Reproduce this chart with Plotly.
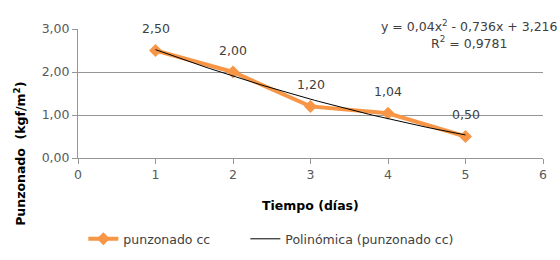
import numpy as np
import plotly.graph_objects as go

dias = [1, 2, 3, 4, 5]
punzonado = [2.50, 2.00, 1.20, 1.04, 0.50]
etiquetas = ["2,50", "2,00", "1,20", "1,04", "0,50"]
ecuacion = "y = 0,04x<sup>2</sup> - 0,736x + 3,216<br>R<sup>2</sup> = 0,9781"

coef = np.polyfit(dias, punzonado, 2)
xt = np.linspace(min(dias), max(dias), 81)
yt = np.polyval(coef, xt)

FONT = "'DejaVu Sans', sans-serif"
ORANGE = "#F79646"
FS = 12.5

L, R, T, B = 78, 17, 28.5, 102.3
W, H = 560, 260
pw, ph = W - L - R, H - T - B

def px(x):
    return (x - L) / pw

def py(y):
    return (H - B - y) / ph

fig = go.Figure()
fig.add_trace(go.Scatter(
    x=dias, y=punzonado, mode="lines+markers", name="punzonado cc",
    line=dict(color=ORANGE, width=4),
    marker=dict(symbol="diamond", size=10, color=ORANGE),
    legend="legend",
))
fig.add_trace(go.Scatter(
    x=xt, y=yt, mode="lines", name="Polinómica (punzonado cc)",
    line=dict(color="#000000", width=1),
    legend="legend2",
))

for x, y, t in zip(dias, punzonado, etiquetas):
    fig.add_annotation(x=x, y=y, text=t, showarrow=False, yshift=22,
                       font=dict(family=FONT, size=FS, color="#404040"))

fig.add_annotation(x=px(469), y=py(34), xref="paper", yref="paper",
                   text=ecuacion, showarrow=False, align="center",
                   xanchor="center", yanchor="middle",
                   font=dict(family=FONT, size=FS, color="#404040"))

fig.add_annotation(x=px(310), y=py(205), xref="paper", yref="paper",
                   text="<b>Tiempo (días)</b>", showarrow=False,
                   xanchor="center", yanchor="middle",
                   font=dict(family=FONT, size=12.5, color="#000000"))
fig.add_annotation(x=px(20.5), y=py(154), xref="paper", yref="paper",
                   text="<b>Punzonado  (kgf/m<sup>2</sup>)</b>", showarrow=False,
                   textangle=-90, xanchor="center", yanchor="middle",
                   font=dict(family=FONT, size=12.5, color="#000000"))

leg = dict(orientation="h", xref="paper", xanchor="left",
           y=py(239), yanchor="middle", font=dict(size=FS, color="#404040"),
           itemwidth=30, bgcolor="rgba(0,0,0,0)")

fig.update_layout(
    width=W, height=H,
    margin=dict(l=L, r=R, t=T, b=B, autoexpand=False),
    paper_bgcolor="white", plot_bgcolor="white",
    separators=",.",
    font=dict(family=FONT, size=FS, color="#404040"),
    showlegend=True,
    legend=dict(leg, x=px(88) - 0.01),
    legend2=dict(leg, x=px(250) - 0.01),
    xaxis=dict(range=[0, 6], dtick=1, tick0=0, showgrid=False,
               showline=True, linecolor="#969696", linewidth=1,
               ticks="outside", ticklen=5, tickcolor="#969696",
               tickfont=dict(size=FS, color="#595959"),
               automargin=False, zeroline=False),
    yaxis=dict(range=[0, 3], dtick=1, tickformat=".2f", showgrid=True,
               gridcolor="#969696", gridwidth=1,
               showline=True, linecolor="#969696", linewidth=1,
               ticks="outside", ticklen=5, tickcolor="#969696",
               tickfont=dict(size=FS, color="#595959"),
               automargin=False, zeroline=False),
)

fig.write_html("out.html", config={"displayModeBar": False},
               post_script="document.body.style.margin='0';")
